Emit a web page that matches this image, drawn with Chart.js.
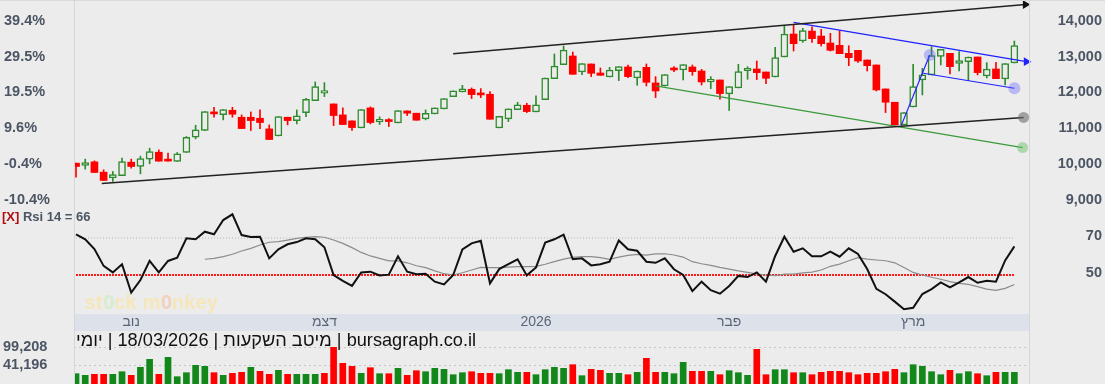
<!DOCTYPE html>
<html>
<head>
<meta charset="utf-8">
<script src="https://cdn.jsdelivr.net/npm/chart.js@4.4.1/dist/chart.umd.min.js"></script>
<style>
  body { margin: 0; background: #ececec; font-family: "Liberation Sans", Arial, sans-serif; }
  #wrap { position: relative; width: 1105px; height: 384px; overflow: hidden; background: #ececec; }
  canvas { position: absolute; left: 0; }
  .vsep { position: absolute; top: 0; width: 1px; height: 384px; background: #d6d6d6; }
  #topline { position: absolute; left: 0; top: 0; width: 1105px; height: 1px; background: #dadada; }
  #band { position: absolute; left: 75px; top: 314px; width: 954px; height: 17px; background: #dde2ea; }
  #rsiLabel { position: absolute; left: 2px; top: 209px; font: bold 13px "Liberation Sans", Arial, sans-serif; color: #4b5563; line-height: 16px; white-space: nowrap; }
  #rsiLabel span { color: #b01010; }
  #monkey { position: absolute; left: 85px; top: 291px; font: bold 20px "Liberation Sans", Arial, sans-serif; color: #f5e7bb; letter-spacing: 0.2px; }
  #monkey .o1 { color: #d6ecd0; }
  #monkey .o2 { color: #f2d2bc; }
  #footer { position: absolute; left: 76px; top: 330px; font: 18.2px "Liberation Sans", Arial, sans-serif; color: #111; line-height: 20px; white-space: nowrap; direction: rtl; z-index: 5; }
</style>
</head>
<body>
<div id="wrap">
  <div id="band"></div>
  <div id="monkey">st<span class="o1">0</span>ck m<span class="o2">0</span>nkey</div>
  <canvas id="price" width="1105" height="212" style="top:0"></canvas>
  <canvas id="rsi" width="1105" height="126" style="top:205px"></canvas>
  <canvas id="vol" width="1105" height="53" style="top:331px"></canvas>
  <div id="topline"></div>
  <div class="vsep" style="left:74px"></div>
  <div class="vsep" style="left:1029px"></div>
  <div id="rsiLabel"><span>[X]</span> Rsi 14 = 66</div>
  <div id="footer" dir="rtl">bursagraph.co.il | מיטב השקעות | 18/03/2026 | יומי</div>
</div>
<script>
// daily candles, oldest first (last one = 18/03/2026)
const openP = [10027, 9962, 10064, 9777, 9619, 9675, 10055, 9934, 10139, 10333,
  10090, 10074, 10324, 10751, 10937, 11456, 11382, 11503, 11308, 11308,
  11280, 10983, 10788, 11308, 11215, 11438, 11772, 11976, 11679, 11373,
  11206, 11011, 11568, 11178, 11243, 11150, 11484, 11420, 11262, 11401,
  11540, 11883, 12013, 12088, 11958, 11949, 11011, 11262, 11522, 11642,
  11457, 11800, 12385, 12774, 13016, 12570, 12793, 12542, 12431, 12607,
  12709, 12403, 12700, 12264, 12180, 12663, 12626, 12709, 12598, 12290,
  12347, 11958, 12125, 12607, 12654, 12570, 12431, 12988, 13628, 13433,
  13711, 13572, 13378, 13313, 13090, 13173, 12904, 12765, 12097, 11726,
  11095, 11596, 12348, 12487, 13007, 13090, 12811, 12858, 12988, 12459,
  12654, 12375, 12821];
const highP = [10030, 10139, 10092, 9842, 9795, 10166, 10139, 10222, 10445, 10398,
  10306, 10324, 10770, 11085, 11466, 11586, 11521, 11586, 11373, 11456,
  11512, 11094, 11327, 11308, 11512, 11837, 12292, 12273, 11679, 11568,
  11206, 11522, 11596, 11317, 11271, 11494, 11484, 11420, 11512, 11568,
  11828, 12041, 12199, 12125, 12106, 12023, 11336, 11540, 11726, 11698,
  11902, 12403, 13071, 13294, 13127, 12802, 12793, 12682, 12700, 12719,
  12765, 12598, 12793, 12440, 12496, 12719, 12774, 12765, 12644, 12440,
  12347, 12162, 12784, 12718, 12876, 12570, 13257, 13851, 13897, 13786,
  13832, 13758, 13647, 13721, 13303, 13173, 12904, 12765, 12097, 11726,
  11438, 12784, 12672, 13275, 13201, 13090, 13136, 12988, 12988, 12830,
  12839, 12802, 13433];
const lowP = [9637, 9860, 9767, 9545, 9517, 9675, 9888, 9730, 10009, 10083,
  10083, 10074, 10324, 10705, 10937, 11308, 11234, 11308, 10992, 10937,
  10992, 10686, 10788, 11094, 11122, 11327, 11772, 11883, 11076, 11104,
  10937, 11011, 11122, 11104, 11048, 11150, 11355, 11225, 11234, 11401,
  11540, 11883, 12013, 11828, 11855, 11252, 11011, 11188, 11522, 11438,
  11457, 11800, 12385, 12774, 12505, 12496, 12440, 12477, 12431, 12329,
  12412, 12199, 12180, 11856, 12180, 12579, 12347, 12477, 12208, 12106,
  11809, 11494, 12125, 12366, 12357, 12245, 12431, 12988, 13155, 13396,
  13396, 13294, 13155, 13081, 12746, 12839, 12598, 12041, 11438, 11095,
  11095, 11596, 11930, 12487, 12765, 12514, 12598, 12329, 12487, 12403,
  12384, 12208, 12821];
const closeP = [9934, 10046, 9767, 9545, 9712, 10074, 9934, 10157, 10352, 10083,
  10085, 10287, 10751, 10955, 11466, 11401, 11521, 11391, 10992, 11215,
  11160, 10686, 11327, 11215, 11345, 11809, 12162, 12050, 11355, 11104,
  11020, 11522, 11160, 11252, 11187, 11494, 11420, 11225, 11420, 11568,
  11828, 12041, 12097, 11939, 11930, 11252, 11336, 11540, 11652, 11466,
  11652, 12403, 12737, 13183, 12505, 12802, 12533, 12477, 12626, 12719,
  12440, 12598, 12282, 12041, 12496, 12626, 12774, 12579, 12292, 12366,
  11967, 12162, 12579, 12672, 12552, 12394, 12969, 13628, 13359, 13721,
  13498, 13359, 13173, 13081, 12969, 12876, 12746, 12069, 11726, 11095,
  11438, 12162, 12487, 13025, 13201, 12718, 12886, 12988, 12552, 12654,
  12384, 12802, 13303];
const volume = [14122, 8966, 12189, 12189, 12189, 20569, 8966, 34750, 60534, 12189,
  66980, 4454, 17346, 41196, 37973, 17346, 8966, 15411, 18634, 34750,
  21858, 12189, 25081, 12189, 12189, 12189, 12189, 15411, 99208, 47642,
  37973, 15411, 33460, 14122, 14122, 31527, 8966, 23792, 20569, 31527,
  28304, 10900, 17346, 20569, 15411, 15411, 14122, 27015, 18635, 18635,
  10900, 27015, 34750, 31527, 43130, 7677, 28304, 25081, 15411, 15411,
  10900, 18635, 63757, 18635, 18635, 14122, 50865, 21858, 21858, 21858,
  10900, 23792, 17346, 8966, 92764, 10900, 27015, 27015, 17346, 17346,
  10900, 18635, 21858, 21858, 17346, 10900, 15411, 15411, 20569, 28304,
  17346, 43130, 38000, 20569, 10900, 25081, 14122, 20569, 14122, 7677,
  18635, 18635, 18635];
const rsi = [72, 69.3, 64, 54.9, 51.4, 55.8, 40.5, 47.3, 57.7, 51.4,
  57.6, 59.4, 69.8, 69.3, 73.4, 72, 79.7, 82.8, 71.6, 70.5,
  70.7, 59, 63.9, 66.6, 67.8, 69.8, 69.3, 65, 50, 46.8,
  44.1, 51.4, 51.8, 49.8, 50.2, 60.1, 51.8, 50.4, 50.7, 46.4,
  44.9, 50, 63.9, 67.1, 68.5, 45.5, 53.2, 55.9, 58.5, 49.8,
  54.1, 67.5, 69.3, 71.8, 58.5, 59, 55.2, 55.8, 57.2, 68.7,
  63.9, 63.1, 57.2, 56.6, 59, 53.1, 50, 41.3, 46.4, 41.8,
  39.9, 44.1, 49.5, 48.9, 51.4, 46.4, 60.3, 70.7, 62.6, 64.4,
  60.1, 60.1, 62.6, 59.9, 64.4, 61.4, 53.2, 42.5, 39.6, 35.6,
  31.5, 32.3, 39.7, 42.4, 46, 43.3, 46, 48.9, 45.8, 46.9,
  46.4, 57.9, 65.5];
const rsiAvg = [null, null, null, null, null, null, null, null, null, null,
  null, null, null, null, 58.5, 59, 59.9, 61.2, 63, 64.4,
  66.2, 67.7, 68, 68.9, 69.8, 70.4, 70.7, 70.4, 68.9, 67.1,
  64.8, 62.2, 60.3, 59, 57.6, 57.6, 56.6, 55, 54, 52.2,
  50.7, 50, 51.2, 52.7, 54.1, 54, 54, 54.3, 54.5, 54.5,
  54.7, 55.8, 57.2, 58.6, 59.5, 59.9, 59.9, 59.4, 58.5, 59.7,
  60.6, 61.2, 60.8, 61.4, 61.5, 60.8, 59.7, 57.2, 56.1, 55.2,
  54.1, 53.2, 52.2, 51.4, 50.5, 50, 49.6, 50.5, 50.5, 51.2,
  51.6, 52.7, 54.7, 55.9, 57.7, 59.4, 58.6, 58.1, 57.7, 56.6,
  54.1, 51.4, 50, 48.8, 47.7, 46.4, 45.5, 44.9, 43.7, 42.4,
  41.7, 42.8, 44.9];

// trend lines drawn on the price panel: [candle index, price]
const resistLine = [[41.0, 13080], [103.2, 14450]];
const supportLine = [[2.8, 9459], [103.0, 11303]];
const greenLine = [[63.0, 12180], [102.9, 10461]];
const blueUpper = [[78.0, 13954], [103.3, 12857]];
const blueLower = [[92.1, 12534], [102.0, 12116]];
const blueLeg = [[89.7, 11074], [92.8, 13043]];

const BASE = 10040;
const priceTicks = [14000, 13000, 12000, 11000, 10000, 9000];
const rsiTicks = [70, 50];
const rsiLevels = [70, 50];
const volTicks = [99208, 41196];
const monthIdx = [6, 27, 50, 71, 91];
const monthNames = ['נוב', 'דצמ', '2026', 'פבר', 'מרץ'];

Chart.defaults.font.family = '"Liberation Sans", Arial, sans-serif';

const X_MIN = -0.22, X_MAX = 103.7;
const P_MIN = 8860.6, P_MAX = 14577;
const R_MIN = 28.92, R_MAX = 87.84;
const V_MIN = -19074, V_MAX = 151745;

const GREEN = '#2e8b2e', RED = '#ff0000', BG = '#ececec';
const VOL_GREEN = '#12871a';
const AXIS_COLOR = '#4b5563';
const tickFont = { size: 14.5, weight: 'bold' };

const idx = closeP.map((c, i) => i);
const isUp = idx.map(i => closeP[i] >= openP[i]);
const volUp = idx.map(i => i === 0 || closeP[i] >= closeP[i - 1]);

// fixed axis width, and no extra room reserved for the end labels
function fixWidth(w) {
  return function(scale) {
    scale.width = w;
    scale.paddingTop = 0;
    scale.paddingBottom = 0;
  };
}
function setTicks(values) { return function(scale) { scale.ticks = values.map(v => ({ value: v })); }; }

function trend(points, color, width, endStyle, endFill, endRadius) {
  return {
    type: 'line',
    data: points.map(p => ({ x: p[0], y: p[1] })),
    borderColor: color,
    borderWidth: width,
    pointRadius: [0, endRadius],
    pointStyle: endStyle,
    pointRotation: endStyle === 'triangle' ? 90 : 0,
    pointBackgroundColor: endFill,
    pointBorderColor: endFill,
    pointBorderWidth: 0,
    clip: false,
    order: 0
  };
}

const xScale = { type: 'linear', min: X_MIN, max: X_MAX, offset: false, display: false };

// price panel
new Chart(document.getElementById('price'), {
  type: 'bar',
  data: {
    datasets: [
      trend(resistLine, '#222', 1.5, 'triangle', '#111', 5),
      trend(supportLine, '#222', 1.5, 'circle', 'rgba(110,110,110,0.6)', 5.5),
      trend(greenLine, '#3a9a3a', 1.2, 'circle', 'rgba(100,190,100,0.45)', 5.5),
      trend(blueUpper, '#2020ff', 1.2, 'triangle', '#2020ff', 5),
      trend(blueLower, '#2020ff', 1.2, 'circle', 'rgba(90,90,255,0.35)', 6),
      trend(blueLeg, '#2020ff', 1.2, 'circle', 'rgba(90,90,255,0.35)', 6),
      {
        data: idx.map(i => ({ x: i, y: [openP[i], closeP[i]] })),
        backgroundColor: idx.map(i => isUp[i] ? BG : RED),
        borderColor: idx.map(i => isUp[i] ? GREEN : RED),
        borderWidth: idx.map(i => isUp[i] ? 1.5 : 0),
        borderSkipped: false,
        barThickness: 7,
        minBarLength: 2,
        grouped: false,
        order: 1
      },
      {
        data: idx.map(i => ({ x: i, y: [lowP[i], highP[i]] })),
        backgroundColor: idx.map(i => isUp[i] ? GREEN : RED),
        borderWidth: 0,
        barThickness: 1,
        grouped: false,
        order: 2
      }
    ]
  },
  options: {
    responsive: false,
    animation: false,
    devicePixelRatio: 1,
    layout: { autoPadding: false, padding: { left: 4, right: 3, top: 0, bottom: 7 } },
    plugins: { legend: { display: false }, tooltip: { enabled: false } },
    scales: {
      x: xScale,
      y: {
        position: 'right', min: P_MIN, max: P_MAX,
        afterFit: fixWidth(72), afterBuildTicks: setTicks(priceTicks),
        grid: { display: false }, border: { display: false },
        ticks: { color: AXIS_COLOR, font: tickFont, crossAlign: 'far', padding: 0,
          callback: v => v.toLocaleString('en-US') }
      },
      yPct: {
        position: 'left', min: P_MIN, max: P_MAX,
        afterFit: fixWidth(70), afterBuildTicks: setTicks(priceTicks),
        grid: { display: false }, border: { display: false },
        ticks: { color: AXIS_COLOR, font: tickFont, crossAlign: 'far', padding: 0,
          callback: v => ((v / BASE - 1) * 100).toFixed(1) + '%' }
      }
    }
  }
});

// RSI panel
new Chart(document.getElementById('rsi'), {
  type: 'line',
  data: {
    datasets: [
      { data: idx.map(i => ({ x: i, y: rsi[i] })), borderColor: '#111', borderWidth: 2, pointRadius: 0, order: 0 },
      { data: idx.map(i => ({ x: i, y: rsiAvg[i] })), borderColor: '#8c8c8c', borderWidth: 1.2, pointRadius: 0, order: 1 },
      { data: [{ x: 0, y: rsiLevels[0] }, { x: idx.length - 1, y: rsiLevels[0] }],
        borderColor: '#b4b4b4', borderWidth: 1, borderDash: [1, 2], pointRadius: 0, order: 3 },
      { data: [{ x: 0, y: rsiLevels[1] }, { x: idx.length - 1, y: rsiLevels[1] }],
        borderColor: '#ff1a1a', borderWidth: 2, borderDash: [2, 1], pointRadius: 0, order: 2 }
    ]
  },
  options: {
    responsive: false,
    animation: false,
    devicePixelRatio: 1,
    layout: { autoPadding: false, padding: { left: 74, right: 3, top: 0, bottom: 0 } },
    plugins: { legend: { display: false }, tooltip: { enabled: false } },
    scales: {
      x: {
        type: 'linear', min: X_MIN, max: X_MAX, offset: false, position: 'bottom',
        afterFit: s => { s.height = 17; s.paddingLeft = 0; s.paddingRight = 0; },
        afterBuildTicks: setTicks(monthIdx),
        grid: { display: false, drawTicks: false }, border: { display: false },
        ticks: { color: '#5b6577', font: { size: 14 }, padding: 0, maxRotation: 0, autoSkip: false,
          callback: (v, i) => monthNames[i] }
      },
      y: {
        position: 'right', min: R_MIN, max: R_MAX,
        afterFit: fixWidth(72), afterBuildTicks: setTicks(rsiTicks),
        grid: { display: false }, border: { display: false },
        ticks: { color: AXIS_COLOR, font: tickFont, crossAlign: 'far', padding: 0, labelOffset: -2.5 }
      }
    }
  }
});

// volume panel
new Chart(document.getElementById('vol'), {
  type: 'bar',
  data: {
    datasets: [{
      data: idx.map(i => ({ x: i, y: volume[i] })),
      backgroundColor: idx.map(i => volUp[i] ? VOL_GREEN : RED),
      base: V_MIN,
      barThickness: 6
    }]
  },
  options: {
    responsive: false,
    animation: false,
    devicePixelRatio: 1,
    layout: { autoPadding: false, padding: { left: 3, right: 75, top: 0, bottom: 0 } },
    plugins: { legend: { display: false }, tooltip: { enabled: false } },
    scales: {
      x: xScale,
      y: {
        position: 'left', min: V_MIN, max: V_MAX,
        afterFit: fixWidth(71), afterBuildTicks: setTicks(volTicks),
        grid: { color: '#c6c6c6', drawTicks: false }, border: { display: false, dash: [2, 3] },
        ticks: { color: AXIS_COLOR, font: tickFont, crossAlign: 'far', padding: 0,
          callback: v => v.toLocaleString('en-US') }
      }
    }
  }
});
</script>
</body>
</html>
